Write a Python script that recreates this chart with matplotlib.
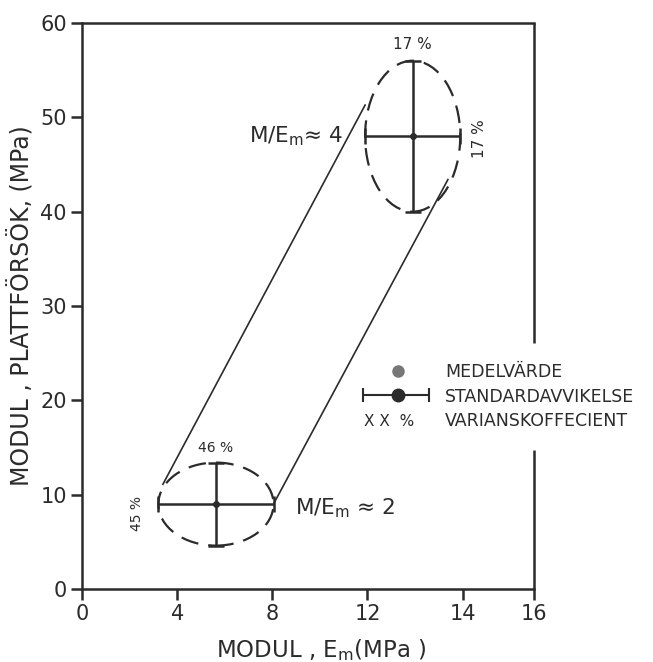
import numpy as np
import matplotlib
matplotlib.use('Agg')
import matplotlib.pyplot as plt
from matplotlib.patches import Ellipse

plt.rcParams['font.family'] = ['DejaVu Sans']

# Data (x in plot units, y in MPa)
mean_x = [5.63, 13.9]          # medelvarde, E_m
mean_y = [9.0, 48.0]           # medelvarde, plattforsok
std_x = [2.42, 2.0]            # standardavvikelse, E_m
std_y = [4.4, 8.0]             # standardavvikelse, plattforsok
cov_x = ['45 %', '17 %']
cov_y = ['46 %', '17 %']

# envelope lines (start, end)
env_left_x = [3.4, 11.9]
env_left_y = [11.1, 51.3]
env_right_x = [8.07, 15.38]
env_right_y = [9.1, 43.4]

xticks = [0, 4, 8, 12, 16, 19]
xticklabels = ['0', '4', '8', '12', '14', '16']
yticks = [0, 10, 20, 30, 40, 50, 60]

fig = plt.figure(figsize=(6.53, 6.62), dpi=100)
ax = fig.add_axes([82/653, 1 - 589/662, 452/653, 566/662])
ax.set_xlim(0, 19)
ax.set_ylim(0, 60)

ink = '#2b2b2b'

# mean + std crosses
for i in range(2):
    ax.errorbar(mean_x[i], mean_y[i], xerr=std_x[i], yerr=std_y[i], fmt='o',
                color=ink, ms=4, elinewidth=1.8, capsize=6, capthick=1.8)
    ax.add_patch(Ellipse((mean_x[i], mean_y[i]), 2*std_x[i], 2*std_y[i],
                         fill=False, ec=ink, lw=1.6, ls=(0, (8, 4.5))))

ax.plot(env_left_x, env_left_y, color=ink, lw=1.2)
ax.plot(env_right_x, env_right_y, color=ink, lw=1.2)

# percentage labels
ax.text(mean_x[1], mean_y[1] + std_y[1] + 1.7, cov_y[1], ha='center', va='center', fontsize=11, color=ink)
ax.text(mean_x[1] + std_x[1] + 0.8, mean_y[1] - 0.3, cov_x[1], ha='center', va='center',
        rotation=90, fontsize=11, color=ink)
ax.text(mean_x[0], mean_y[0] + std_y[0] + 1.6, cov_y[0], ha='center', va='center', fontsize=10, color=ink)
ax.text(mean_x[0] - std_x[0] - 0.9, mean_y[0] - 1.0, cov_x[0], ha='center', va='center',
        rotation=90, fontsize=10, color=ink)

ax.text(10.97, 48.0, 'M/E$_\\mathregular{m}$≈ 4', ha='right', va='center', fontsize=15.5, color=ink)
ax.text(8.95, 8.6, 'M/E$_\\mathregular{m}$ ≈ 2', ha='left', va='center', fontsize=15.5, color=ink)

# legend
ax.plot(13.28, 23.1, 'o', color='#777777', ms=8, clip_on=False)
ax.errorbar(13.28, 20.6, xerr=[[1.45], [1.3]], fmt='o', color=ink, ms=9,
            elinewidth=1.5, capsize=5, capthick=1.5, clip_on=False)
ax.text(11.85, 17.8, 'X X  %', ha='left', va='center', fontsize=11, color=ink)
for yy, lab in zip([23.0, 20.4, 17.8], ['MEDELVÄRDE', 'STANDARDAVVIKELSE', 'VARIANSKOFFECIENT']):
    ax.text(15.25, yy, lab, ha='left', va='center', fontsize=12.5, color=ink)

# axes styling
ax.set_xticks(xticks)
ax.set_xticklabels(xticklabels)
ax.set_yticks(yticks)
ax.tick_params(direction='out', length=8, width=1.8, colors=ink, labelsize=15, pad=3)
for s in ['left', 'bottom', 'top']:
    ax.spines[s].set_linewidth(1.8)
    ax.spines[s].set_color(ink)
ax.spines['right'].set_visible(False)
ax.vlines(19, 0, 14.7, color=ink, lw=1.8, clip_on=False)
ax.vlines(19, 26.1, 60, color=ink, lw=1.8, clip_on=False)

ax.set_ylabel('MODUL , PLATTFÖRSÖK, (MPa)', fontsize=17, color=ink, labelpad=4)
ax.set_xlabel('MODUL , E$_\\mathregular{m}$(MPa )', fontsize=16.5, color=ink, labelpad=3)
ax.xaxis.set_label_coords(0.53, -0.085)

fig.savefig('out.png', dpi=100)
